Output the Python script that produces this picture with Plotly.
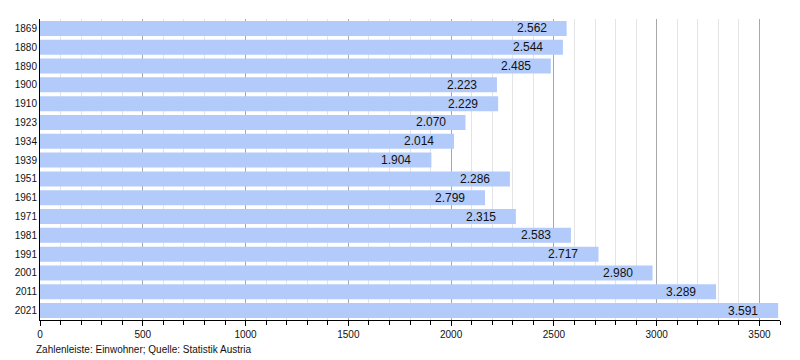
import plotly.graph_objects as go

years = ["1869", "1880", "1890", "1900", "1910", "1923", "1934", "1939",
         "1951", "1961", "1971", "1981", "1991", "2001", "2011", "2021"]
values = [2562, 2544, 2485, 2223, 2229, 2070, 2014, 1904,
          2286, 2165, 2315, 2583, 2717, 2980, 3289, 3591]
labels = ["2.562", "2.544", "2.485", "2.223", "2.229", "2.070", "2.014", "1.904",
          "2.286", "2.799", "2.315", "2.583", "2.717", "2.980", "3.289", "3.591"]
x_ticks = [0, 500, 1000, 1500, 2000, 2500, 3000, 3500]
caption = "Zahlenleiste: Einwohner; Quelle: Statistik Austria"

FONT = "Liberation Sans, Arial, sans-serif"

fig = go.Figure()
fig.add_trace(go.Bar(
    x=values, y=years, orientation="h",
    marker=dict(color="#b3cbfb", line=dict(width=0)),
    hoverinfo="skip",
))

for i, (v, lab) in enumerate(zip(values, labels)):
    fig.add_annotation(x=v, y=i, xref="x", yref="y", text=lab,
                       showarrow=False, xanchor="right", xshift=-18,
                       font=dict(family=FONT, size=12, color="#111"))

fig.add_annotation(x=0, y=0, xref="paper", yref="paper", text=caption,
                   showarrow=False, xanchor="left", yanchor="top",
                   xshift=-6, yshift=-22,
                   font=dict(family=FONT, size=10, color="#111"))

fig.update_layout(
    width=800, height=360,
    margin=dict(l=40, r=20, t=19, b=40, autoexpand=False),
    plot_bgcolor="white", paper_bgcolor="white",
    bargap=0.2, showlegend=False,
    font=dict(family=FONT, size=11, color="#111"),
    xaxis=dict(range=[0, 3600], tickvals=x_ticks, showgrid=True,
               gridcolor="#a8a8a8", gridwidth=1,
               showline=True, linecolor="black", linewidth=1,
               ticks="outside", ticklen=5, tickcolor="black",
               tickfont=dict(size=10), automargin=False,
               minor=dict(dtick=100, showgrid=True, gridcolor="#e4e4e4",
                          ticks="outside", ticklen=4, tickcolor="black"),
               zeroline=False, fixedrange=True),
    yaxis=dict(type="category", categoryorder="array", categoryarray=years,
               range=[len(years) - 0.5, -0.5], showgrid=False,
               showline=True, linecolor="black", linewidth=1,
               ticks="", tickfont=dict(size=10), automargin=False,
               zeroline=False, fixedrange=True),
)

fig.write_html("out.html", config={"displayModeBar": False},
               post_script="document.body.style.margin='0';document.body.style.overflow='hidden';")
